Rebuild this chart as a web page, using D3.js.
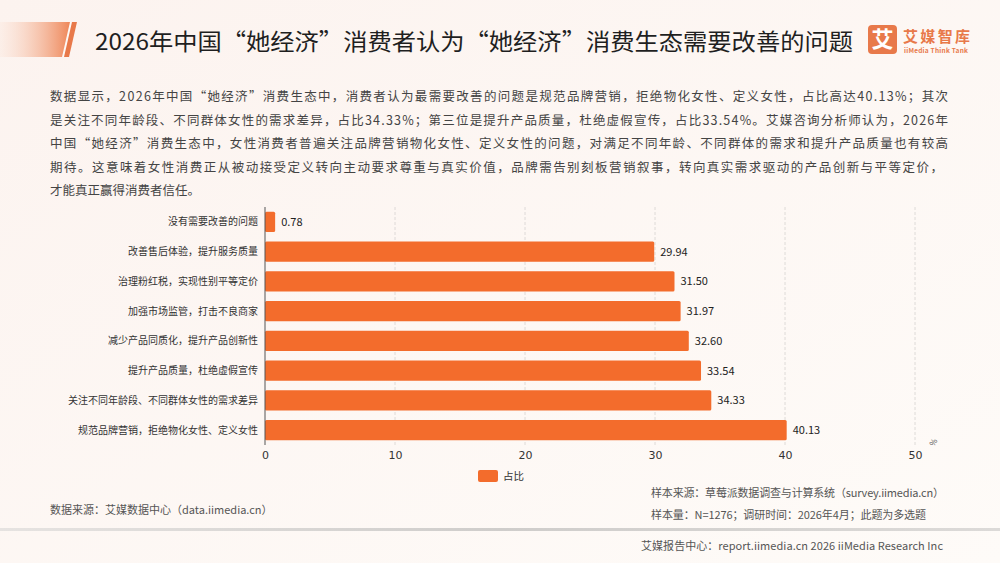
<!DOCTYPE html>
<html>
<head>
<meta charset="utf-8">
<script src="https://cdn.jsdelivr.net/npm/d3@7"></script>
<style>
  html, body { margin: 0; padding: 0; background: #fdf8f5; }
  svg { display: block; font-family: "Noto Sans CJK SC", "Noto Sans", sans-serif; }
</style>
</head>
<body>
<svg id="chart" width="1000" height="563"></svg>
<script>
const categories = [
  '没有需要改善的问题',
  '改善售后体验，提升服务质量',
  '治理粉红税，实现性别平等定价',
  '加强市场监管，打击不良商家',
  '减少产品同质化，提升产品创新性',
  '提升产品质量，杜绝虚假宣传',
  '关注不同年龄段、不同群体女性的需求差异',
  '规范品牌营销，拒绝物化女性、定义女性'
];
const values = [0.78, 29.94, 31.50, 31.97, 32.60, 33.54, 34.33, 40.13];
const xTicks = [0, 10, 20, 30, 40, 50];
const seriesName = '占比';

const title = '2026年中国“她经济”消费者认为“她经济”消费生态需要改善的问题';
const paragraph = [
  '数据显示，2026年中国“她经济”消费生态中，消费者认为最需要改善的问题是规范品牌营销，拒绝物化女性、定义女性，占比高达40.13%；其次',
  '是关注不同年龄段、不同群体女性的需求差异，占比34.33%；第三位是提升产品质量，杜绝虚假宣传，占比33.54%。艾媒咨询分析师认为，2026年',
  '中国“她经济”消费生态中，女性消费者普遍关注品牌营销物化女性、定义女性的问题，对满足不同年龄、不同群体的需求和提升产品质量也有较高',
  '期待。这意味着女性消费正从被动接受定义转向主动要求尊重与真实价值，品牌需告别刻板营销叙事，转向真实需求驱动的产品创新与平等定价，',
  '才能真正赢得消费者信任。'
];

const barColor = '#f36c2c';
const svg = d3.select('#chart');

// background + decoration
const defs = svg.append('defs');
const bg = defs.append('linearGradient').attr('id', 'bg').attr('x1', 0).attr('x2', 1).attr('y1', 0).attr('y2', 1);
bg.append('stop').attr('offset', '0%').attr('stop-color', '#fcf3ef');
bg.append('stop').attr('offset', '100%').attr('stop-color', '#fefbf8');
const deco = defs.append('linearGradient').attr('id', 'deco').attr('x1', 0).attr('x2', 1);
deco.append('stop').attr('offset', '0%').attr('stop-color', '#fbe4d8').attr('stop-opacity', 0.3);
deco.append('stop').attr('offset', '100%').attr('stop-color', '#ee8455');
const rule = defs.append('linearGradient').attr('id', 'rule').attr('x1', 0).attr('x2', 1);
rule.append('stop').attr('offset', '0%').attr('stop-color', '#e6e3e1');
rule.append('stop').attr('offset', '50%').attr('stop-color', '#cfcdcb');
rule.append('stop').attr('offset', '100%').attr('stop-color', '#dcdad8');

svg.append('rect').attr('width', 1000).attr('height', 563).attr('fill', 'url(#bg)');
svg.append('path').attr('d', 'M0,22 L71,22 L63,57 L0,57 Z').attr('fill', 'url(#deco)');
svg.append('path').attr('d', 'M70,22 L77,22 L69,57 L62,57 Z').attr('fill', '#fdf8f5');
svg.append('path').attr('d', 'M72,22 L77,22 L69,57 L64,57 Z').attr('fill', '#e8794a');

svg.append('text').attr('x', 95).attr('y', 50)
  .attr('font-size', 23).attr('fill', '#1f1f1f')
  .attr('textLength', 758).attr('lengthAdjust', 'spacingAndGlyphs').text(title);

// logo
svg.append('rect').attr('x', 868).attr('y', 25).attr('width', 29).attr('height', 29).attr('rx', 4).attr('fill', '#e8794a');
svg.append('text').attr('x', 882.5).attr('y', 47).attr('text-anchor', 'middle')
  .attr('font-size', 22).attr('font-weight', 'bold').attr('fill', '#fff').text('艾');
svg.append('text').attr('x', 903).attr('y', 42).attr('font-size', 15).attr('font-weight', 'bold')
  .attr('fill', '#e8794a').attr('textLength', 67).text('艾媒智库');
svg.append('text').attr('x', 904).attr('y', 53).attr('font-size', 6.5).attr('font-weight', 'bold')
  .attr('fill', '#e8794a').attr('textLength', 64).text('iiMedia Think Tank');

// paragraph
svg.append('g').selectAll('text').data(paragraph).join('text')
  .attr('x', 50).attr('y', (d, i) => 101 + i * 23.6)
  .attr('font-size', 12.5).attr('fill', '#444')
  .each(function(d, i) {
    if (i < 4) d3.select(this).attr('textLength', i === 3 ? 893 : 898).attr('lengthAdjust', 'spacing');
  })
  .text(d => d);

// chart
const x = d3.scaleLinear().domain([0, 50]).range([265, 915]);
const y = d3.scaleBand().domain(categories).range([207, 445]).paddingInner(0.32).paddingOuter(0.16);

svg.append('g').selectAll('line').data(xTicks.slice(1)).join('line')
  .attr('x1', d => x(d)).attr('x2', d => x(d))
  .attr('y1', 207).attr('y2', 445)
  .attr('stroke', '#d6d3d1').attr('stroke-width', 0.8).attr('stroke-dasharray', '3,2');

svg.append('g').selectAll('rect').data(values).join('rect')
  .attr('x', x(0)).attr('y', (d, i) => y(categories[i]))
  .attr('width', d => x(d) - x(0)).attr('height', y.bandwidth())
  .attr('rx', 1.5)
  .attr('fill', barColor);

svg.append('g').selectAll('text').data(values).join('text')
  .attr('x', d => x(d) + 6)
  .attr('y', (d, i) => y(categories[i]) + y.bandwidth() / 2 + 4)
  .attr('font-size', 11).attr('fill', '#222')
  .text(d => d.toFixed(2));

svg.append('g').selectAll('text').data(categories).join('text')
  .attr('x', 258).attr('y', d => y(d) + y.bandwidth() / 2 + 3.5)
  .attr('text-anchor', 'end').attr('font-size', 10).attr('fill', '#333')
  .text(d => d);

svg.append('line').attr('x1', x(0)).attr('x2', x(0)).attr('y1', 207).attr('y2', 445)
  .attr('stroke', '#555').attr('stroke-width', 1);

const xAxis = svg.append('g').attr('transform', 'translate(0,445)')
  .call(d3.axisBottom(x).tickValues(xTicks).tickSize(0).tickPadding(6));
xAxis.select('.domain').remove();
xAxis.selectAll('text').attr('font-size', 11).attr('fill', '#333')
  .attr('font-family', '"DejaVu Sans", sans-serif');

svg.append('text').attr('transform', 'translate(934,447) rotate(-60)')
  .attr('font-size', 8).attr('fill', '#555').text('%');

// legend
svg.append('rect').attr('x', 478).attr('y', 470).attr('width', 20).attr('height', 12).attr('rx', 2).attr('fill', barColor);
svg.append('text').attr('x', 503).attr('y', 480).attr('font-size', 10.5).attr('fill', '#333').text(seriesName);

// footer
svg.append('text').attr('x', 50).attr('y', 514).attr('font-size', 11).attr('fill', '#555')
  .text('数据来源：艾媒数据中心（data.iimedia.cn）');
svg.append('text').attr('x', 651).attr('y', 497).attr('font-size', 11).attr('fill', '#555')
  .attr('textLength', 293).text('样本来源：草莓派数据调查与计算系统（survey.iimedia.cn）');
svg.append('text').attr('x', 651).attr('y', 519).attr('font-size', 11).attr('fill', '#555')
  .attr('textLength', 275).text('样本量：N=1276；调研时间：2026年4月；此题为多选题');
svg.append('rect').attr('x', 0).attr('y', 528).attr('width', 1000).attr('height', 3).attr('fill', 'url(#rule)');
svg.append('text').attr('x', 641).attr('y', 550).attr('font-size', 11).attr('fill', '#555')
  .attr('textLength', 302).text('艾媒报告中心：report.iimedia.cn  2026 iiMedia Research Inc');
</script>
</body>
</html>
